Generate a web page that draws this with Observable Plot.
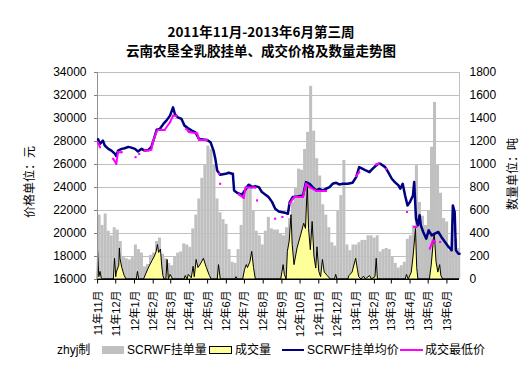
<!DOCTYPE html>
<html>
<head>
<meta charset="utf-8">
<script src="https://cdn.jsdelivr.net/npm/d3@7"></script>
<script src="https://cdn.jsdelivr.net/npm/@observablehq/plot@0.6"></script>
<style>
  body { margin: 0; background: #fff; }
  #wrap { position: relative; width: 532px; height: 375px; overflow: hidden; background: #fff; }
  .title { position: absolute; left: 0; width: 522px; text-align: center; white-space: nowrap;
           font-family: "Noto Sans CJK SC", sans-serif; font-weight: bold; font-size: 13.5px; line-height: 16px; color: #000; }
  .ytitle { position: absolute; font-family: "Noto Sans CJK SC", sans-serif; font-size: 12px; white-space: nowrap;
            transform: translate(-50%, -50%) rotate(-90deg); color: #000; }
  .leg { position: absolute; top: 342px; height: 16px; line-height: 16px; font-family: "Liberation Sans", "Noto Sans CJK SC", sans-serif;
         font-size: 12px; white-space: nowrap; color: #000; }
  .sw { position: absolute; }
</style>
</head>
<body>
<div id="wrap">
  <div class="title" style="top:23px;">2011年11月-2013年6月第三周</div>
  <div class="title" style="top:42px;">云南农垦全乳胶挂单、成交价格及数量走势图</div>
  <div class="ytitle" style="left:28px; top:182px;">价格单位：元</div>
  <div class="ytitle" style="left:511px; top:174px;">数量单位：吨</div>
  <div class="leg" style="left:57px;">zhyj制</div>
  <div class="sw" style="left:102px; top:346px; width:22px; height:8px; background:#c0c0c0;"></div>
  <div class="leg" style="left:127px;">SCRWF挂单量</div>
  <div class="sw" style="left:209px; top:346px; width:21px; height:6px; background:#ffff99; border:1px solid #000;"></div>
  <div class="leg" style="left:235px;">成交量</div>
  <div class="sw" style="left:282px; top:349px; width:22px; height:2px; background:#000080;"></div>
  <div class="leg" style="left:307px;">SCRWF挂单均价</div>
  <div class="sw" style="left:400px; top:349px; width:23px; height:2px; background:#ff00ff;"></div>
  <div class="leg" style="left:425px;">成交最低价</div>
</div>
<script>
// ---- data (day offsets counted from 2011-11-01) ----
const priceTicks = [16000, 18000, 20000, 22000, 24000, 26000, 28000, 30000, 32000, 34000];
const monthLabels = ["11年11月","11年12月","12年1月","12年2月","12年3月","12年4月","12年5月","12年6月","12年7月","12年8月",
                     "12年9月","12年10月","12年11月","12年12月","13年1月","13年2月","13年3月","13年4月","13年5月","13年6月"];

// SCRWF挂单量 (吨), one value per 5-day step
const grayStepDays = 5;
const grayVol = [560,470,570,420,380,450,430,330,200,180,
                 170,190,300,260,230,110,130,210,230,330,
                 360,220,180,140,120,200,230,240,310,300,
                 280,440,560,700,880,1000,1160,1130,1000,700,
                 580,520,480,260,150,140,260,470,760,800,
                 830,600,420,380,300,420,540,440,430,430,
                 400,380,450,530,670,790,960,950,1130,1280,
                 1680,1290,1050,900,650,560,450,320,290,600,
                 730,1035,300,250,300,300,320,340,340,380,
                 380,360,380,240,260,270,260,200,140,100,
                 120,150,350,380,470,990,670,550,470,600,
                 1150,1540,1000,750,530,500,250,450,350,270];

// 成交量 (吨)
const dealDays = [0,2,4,6,8, 26,28,30,31,35,36,37,40,44,47, 64,66,68,
  76,80,85,90,94,97,99,101,104,106,108,110, 113,115,117,120,124,
  143,145,148,150,155,158,160,163,166,170,175,180,185,188, 198,200,203, 227,229,231,
  240,243,246,248,252,255,258,261,
  303,307,309,312,314,317,320,322,325,330,336,341,344,347,349,352,355,358,361,363,366,369,372,375,380,385,
  392,394,396, 414,416,421,427,430,432,436, 440,443,450,453,459,461,463,
  509,511,514,519,522,526,528,530, 549,552,555,557,560,563,566,568,571,598];
const dealVol = [240,20,66,10,0, 0,180,20,60,120,270,180,100,30,0, 0,66,0,
  0,50,110,160,200,240,300,230,260,120,30,0, 0,170,0,40,0,
  0,30,0,40,10,110,20,170,100,130,180,100,30,0, 0,125,0, 0,20,0,
  0,80,125,100,150,240,100,0,
  0,125,40,0,240,330,560,300,125,270,385,485,440,830,440,255,500,200,95,280,66,20,170,60,30,0,
  0,40,0, 0,30,60,180,80,20,0, 25,0,30,0,20,180,0,
  0,40,0,60,200,440,100,0, 0,120,300,400,150,60,125,30,0,0];

// SCRWF挂单均价 (元)
const avgDays = [0,3,8,11,17,22,28,30,33,39,44,50,55,61,66,72,77,83,88,94,
  97,102,108,113,119,124,127,132,138,143,149,155,161,167,180,186,191,194,197,202,
  211,216,222,223,225,230,238,244,249,255,260,266,271,277,282,288,293,299,309,314,
  317,322,330,339,344,350,355,361,366,372,377,383,388,394,399,405,413,421,427,432,
  438,443,449,454,460,464,467,475,480,486,491,497,500,504,508,512,516,521,523,526,
  529,532,534,538,543,547,552,557,563,568,574,580,585,587,590,592,596,598];
const avgPrice = [28200,27790,28080,27650,27360,27210,26920,26720,27210,27360,27415,27530,27470,27360,27130,27360,27210,27270,27500,28510,
  29030,29090,29525,29815,30250,30970,30390,30100,29960,29380,29150,28950,28800,28225,28140,27940,27210,26490,25480,25100,
  25190,25280,25190,25190,23745,23540,23370,23830,24240,24030,24120,24030,23600,23370,23170,22730,22160,21920,21810,21720,
  22730,23170,23220,23310,24470,24320,24030,23745,23890,23745,23890,24030,24320,24410,24265,24320,24320,24410,24900,25770,
  25620,25480,25330,25620,25910,26060,26060,25770,25330,24760,24470,24180,23890,24320,23310,22440,22730,23310,24470,21290,
  20710,21580,20710,20130,19550,20280,19840,19990,20130,19700,19260,18830,18540,22440,21870,18540,18250,18250];

// 成交最低价 (元); null = no deal (gap)
const lowDays = [0,3,4, 25,30,33,39,40, 62,63, 68,69,
  77,83,88,91,97,99,110,119,124,130,131, 146,150,153,164,167,180,181, 200,201, 202,203,
  233,241,244,260,261, 263,264, 293,294, 305,306,
  317,322,325,339,344,350,361,377,378, 427,432,433, 460,464,465, 477,478, 511,512,
  523,527,528, 549,554,557,558, 566];
const lowPrice = [27900,27500,null, 26500,26060,27070,27070,null, 26640,null, 26920,null,
  27210,27210,27300,28000,28900,29000,29000,29670,30250,30250,null, 29090,28850,28800,28700,28140,28140,null, 25190,null, 24320,null,
  23400,23100,23990,23990,null, 22880,null, 21290,null, 21430,null,
  22600,23000,23170,23170,24320,24030,23700,23700,null, 25000,25330,null, 26000,26060,null, 25620,null, 21870,null,
  20570,20570,null, 18700,19400,19300,null, 19270];

// ---- build ----
const DAY = 86400000, BASE = Date.UTC(2011, 10, 1);
const toDate = d => new Date(BASE + d * DAY);
const tonToPrice = t => 16000 + t * 10;

const grayData = grayVol.map((v, i) => ({x1: toDate(i * grayStepDays), x2: toDate(i * grayStepDays + 5), v}));
const dealData = dealDays.map((d, i) => ({x: toDate(d), v: dealVol[i]}));
const avgData = avgDays.map((d, i) => ({x: toDate(d), v: avgPrice[i]}));
const lowData = lowDays.map((d, i) => ({x: toDate(d), v: lowPrice[i]}));
const months = monthLabels.map((s, i) => ({x: new Date(Date.UTC(2011, 10 + i, 1)), s}));
const x0 = toDate(-1), x1 = toDate(598);

const chart = Plot.plot({
  width: 532, height: 375,
  marginLeft: 97, marginRight: 73, marginTop: 72, marginBottom: 96,
  style: {fontFamily: '"Liberation Sans", "Noto Sans CJK SC", sans-serif', fontSize: "12px", background: "transparent", color: "#000"},
  x: {type: "utc", domain: [x0, x1], axis: null},
  y: {domain: [16000, 34000], axis: null},
  marks: [
    Plot.ruleY(priceTicks, {stroke: "#c0c0c0", strokeWidth: 1}),
    Plot.rect(grayData, {x1: "x1", x2: "x2", y1: 16000, y2: d => tonToPrice(d.v), fill: "#c0c0c0"}),
    Plot.areaY(dealData, {x: "x", y1: 16000, y2: d => tonToPrice(d.v), fill: "#ffff99", stroke: "#000", strokeWidth: 1}),
    Plot.ruleX([x0], {stroke: "#909090"}),
    Plot.ruleX([x1], {stroke: "#c0c0c0"}),
    Plot.ruleY([16000], {stroke: "#000"}),
    Plot.line(avgData, {x: "x", y: "v", stroke: "#000080", strokeWidth: 2.5}),
    Plot.line(lowData, {x: "x", y: "v", stroke: "#ff00ff", strokeWidth: 2}),
    Plot.dot(lowData.filter(d => d.v != null), {x: "x", y: "v", fill: "#ff00ff", symbol: "square", r: 1.1}),
    Plot.axisY(priceTicks, {anchor: "left", tickSize: 3, tickPadding: 8, stroke: "#808080", fill: "#000", label: null, fontSize: 12,
                            tickFormat: d => String(d)}),
    Plot.axisY(priceTicks, {anchor: "right", tickSize: 0, tickPadding: 10, fill: "#000", label: null, fontSize: 12,
                            tickFormat: d => String((d - 16000) / 10)}),
    Plot.text(months, {x: "x", frameAnchor: "bottom", dy: 11, rotate: -90, textAnchor: "end", lineAnchor: "middle",
                       text: "s", fontSize: 11, fill: "#000"})
  ]
});
const wrap = document.getElementById("wrap");
chart.style.position = "absolute";
chart.style.left = "0px";
chart.style.top = "0px";
wrap.insertBefore(chart, wrap.firstChild);
// month tick marks (4px below the x axis) placed with the chart's own x scale
const xs = chart.scale("x");
d3.select(chart).append("g").selectAll("line").data(months).join("line")
  .attr("x1", d => xs.apply(d.x)).attr("x2", d => xs.apply(d.x))
  .attr("y1", 279).attr("y2", 283.5).attr("stroke", "#000");
</script>
</body>
</html>
